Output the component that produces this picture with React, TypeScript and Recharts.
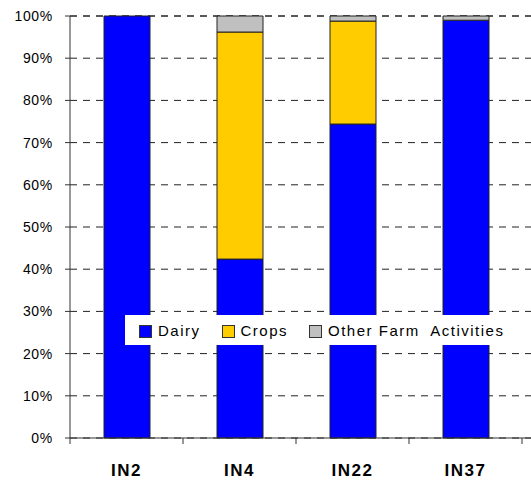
import React from "react";
import {
  Bar,
  BarChart,
  CartesianGrid,
  XAxis,
  YAxis
} from "recharts";

const farms = ["IN2", "IN4", "IN22", "IN37"];
const dairy = [100, 42.4, 74.4, 99.0];
const crops = [0, 53.8, 24.4, 0];
const otherActivities = [0, 3.8, 1.2, 1.0];
const yTicks = [0, 10, 20, 30, 40, 50, 60, 70, 80, 90, 100];

const series = [
  { key: "dairy", name: "Dairy", color: "#0000FF" },
  { key: "crops", name: "Crops", color: "#FFCC00" },
  { key: "other", name: "Other Farm  Activities", color: "#C0C0C0" }
];

const data = farms.map((farm, i) => ({
  farm,
  dairy: dairy[i],
  crops: crops[i],
  other: otherActivities[i]
}));

const FONT = "'Liberation Sans', Arial, sans-serif";
const WIDTH = 531;
const HEIGHT = 485;
const PLOT_LEFT = 70;
const PAD_RIGHT = 9;
const BAND = (WIDTH - PLOT_LEFT - PAD_RIGHT) / farms.length;

function FarmTick(props: any) {
  const { x, y, payload, index } = props;
  const half = BAND / 2;
  return (
    <g>
      <line x1={x - half} x2={x - half} y1={y - 6} y2={y} stroke="#333" />
      {index === farms.length - 1 && (
        <line x1={x + half} x2={x + half} y1={y - 6} y2={y} stroke="#333" />
      )}
      <text
        x={x}
        y={y + 32}
        textAnchor="middle"
        fontFamily={FONT}
        fontWeight="bold"
        fontSize={17}
        letterSpacing={1.5}
        fill="#000"
      >
        {payload.value}
      </text>
    </g>
  );
}

function LegendBox() {
  return (
    <div
      style={{
        position: "absolute",
        left: 125,
        top: 315,
        width: 400,
        height: 30,
        display: "flex",
        alignItems: "center",
        boxSizing: "border-box",
        paddingLeft: 14,
        background: "#fff",
        fontFamily: FONT,
        fontSize: 15,
        letterSpacing: 1.5,
        color: "#000",
        whiteSpace: "pre"
      }}
    >
      {series.map((s) => (
        <div key={s.key} style={{ display: "flex", alignItems: "center", marginRight: 21 }}>
          <span
            style={{
              display: "inline-block",
              width: 11,
              height: 11,
              background: s.color,
              border: "1px solid #333",
              marginRight: 6,
              marginTop: 2
            }}
          />
          <span>{s.name}</span>
        </div>
      ))}
    </div>
  );
}

export default function App() {
  return (
    <div style={{ position: "absolute", left: 0, top: 0, width: WIDTH, height: HEIGHT, background: "#fff" }}>
      <BarChart
        width={WIDTH}
        height={HEIGHT}
        data={data}
        margin={{ top: 16, right: 0, bottom: 0, left: 0 }}
      >
        <CartesianGrid
          vertical={false}
          stroke="#222"
          strokeDasharray="7 6"
        />
        <XAxis
          dataKey="farm"
          height={47}
          padding={{ left: 0, right: PAD_RIGHT }}
          axisLine={{ stroke: "#333" }}
          tickLine={false}
          tickSize={6}
          tickMargin={0}
          tick={<FarmTick />}
          interval={0}
        />
        <YAxis
          width={PLOT_LEFT}
          domain={[0, 100]}
          ticks={yTicks}
          interval={0}
          tickFormatter={(v: number) => `${v}%`}
          axisLine={{ stroke: "#333" }}
          tickLine={{ stroke: "#333" }}
          tickSize={5}
          tickMargin={12}
          tick={{ fontFamily: FONT, fontSize: 14, letterSpacing: 0.7, fill: "#000" }}
        />
        {series.map((s) => (
          <Bar
            key={s.key}
            dataKey={s.key}
            name={s.name}
            stackId="farm"
            fill={s.color}
            stroke="#222"
            strokeWidth={1}
            barSize={46}
            isAnimationActive={false}
          />
        ))}
      </BarChart>
      <LegendBox />
    </div>
  );
}
